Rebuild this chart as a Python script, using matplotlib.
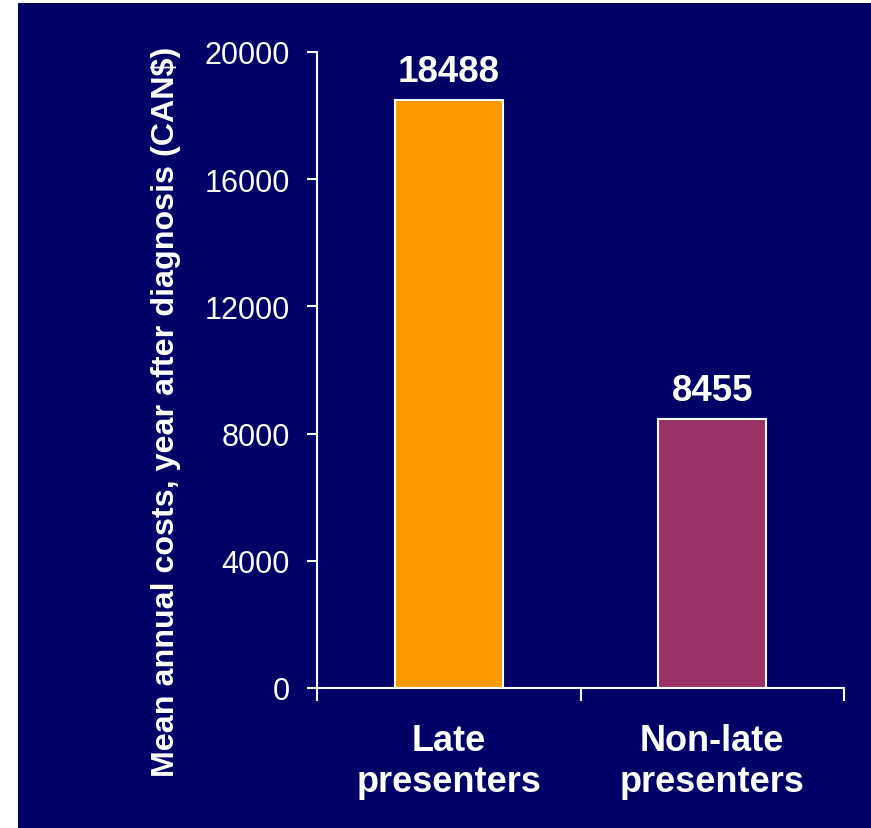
import matplotlib
matplotlib.use("Agg")
import matplotlib.pyplot as plt
from matplotlib.patches import Rectangle

categories = ["Late\npresenters", "Non-late\npresenters"]
values = [18488, 8455]
bar_colors = ["#FF9900", "#993366"]
yticks = [0, 4000, 8000, 12000, 16000, 20000]
ylabel = "Mean annual costs, year after diagnosis (CAN$)"

plt.rcParams['font.family'] = ['Liberation Sans', 'DejaVu Sans']
NAVY = "#000066"

fig = plt.figure(figsize=(8.71, 8.29), dpi=100, facecolor="white")
fig.patches.append(Rectangle((18/871, 0), 1, 1 - 4/829, transform=fig.transFigure,
                             facecolor=NAVY, edgecolor="none", zorder=-10))

ax = fig.add_axes([317/871, 1 - 689/829, 527/871, 636/829])
ax.set_facecolor("none")

x = list(range(len(categories)))
bars = ax.bar(x, values, width=0.41, color=bar_colors, edgecolor="white", linewidth=1.5, zorder=3)

ax.set_xlim(-0.5, len(categories) - 0.5)
ax.set_ylim(0, 20000)

for sp in ["top", "right"]:
    ax.spines[sp].set_visible(False)
for sp in ["left", "bottom"]:
    ax.spines[sp].set_color("white")
    ax.spines[sp].set_linewidth(1.5)

ax.set_yticks(yticks)
ax.set_yticklabels([str(v) for v in yticks])
ax.tick_params(axis="y", colors="white", labelcolor="white", labelsize=22,
               length=7.5, width=1.5, pad=12, direction="out")

# major x ticks at category boundaries, labels as minor ticks at centers
ax.set_xticks([i - 0.5 for i in range(len(categories) + 1)])
ax.set_xticklabels([])
ax.tick_params(axis="x", which="major", colors="white", length=9.5, width=1.5, direction="out")
ax.set_xticks(x, minor=True)
ax.set_xticklabels(categories, minor=True, fontsize=26, fontweight="bold", color="white",
                   linespacing=1.22)
ax.tick_params(axis="x", which="minor", length=0, pad=25)

for xi, v in zip(x, values):
    ax.annotate(str(v), xy=(xi, v), xytext=(0, 14), textcoords="offset points",
                ha="center", va="baseline", fontsize=26.5, fontweight="bold", color="white")

fig.text(166/871, 1 - 412/829, ylabel, rotation=90, ha="center", va="center",
         fontsize=23.2, fontweight="bold", color="white")

fig.savefig("out.png", dpi=100, facecolor="white")
